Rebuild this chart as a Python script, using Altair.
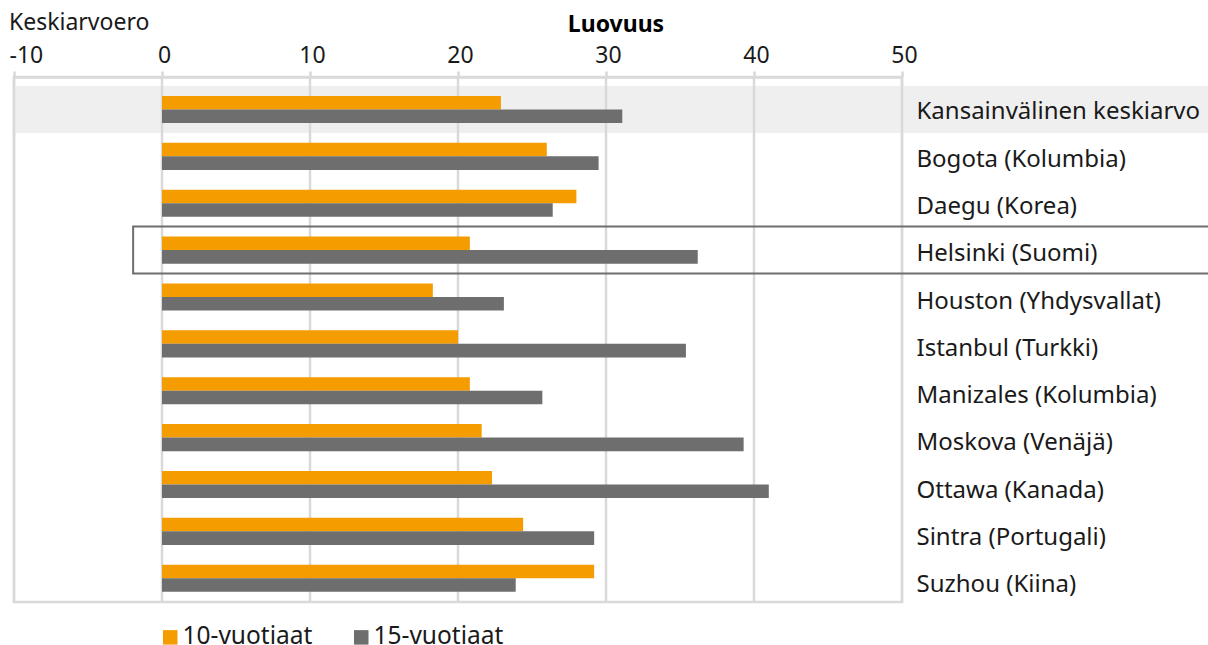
import altair as alt
import pandas as pd

cities = [
    "Kansainvälinen keskiarvo",
    "Bogota (Kolumbia)",
    "Daegu (Korea)",
    "Helsinki (Suomi)",
    "Houston (Yhdysvallat)",
    "Istanbul (Turkki)",
    "Manizales (Kolumbia)",
    "Moskova (Venäjä)",
    "Ottawa (Kanada)",
    "Sintra (Portugali)",
    "Suzhou (Kiina)",
]
age10 = [22.9, 26.0, 28.0, 20.8, 18.3, 20.0, 20.8, 21.6, 22.3, 24.4, 29.2]
age15 = [31.1, 29.5, 26.4, 36.2, 23.1, 35.4, 25.7, 39.3, 41.0, 29.2, 23.9]
groups = ["10-vuotiaat", "15-vuotiaat"]
colors = ["#F59C00", "#6E6E6E"]
ticks = [-10, 0, 10, 20, 30, 40, 50]
highlight_shade = ["Kansainvälinen keskiarvo"]
highlight_box = ["Helsinki (Suomi)"]

FONT = "Noto Sans"
FS = 23

rows = []
for c, a, b in zip(cities, age10, age15):
    rows.append({"city": c, "group": groups[0], "value": a})
    rows.append({"city": c, "group": groups[1], "value": b})
df = pd.DataFrame(rows)

yscale = alt.Scale(domain=cities, paddingInner=0.42, paddingOuter=0.31, align=0.65)
xscale = alt.Scale(domain=[-10, 50], nice=False)

yaxis = alt.Axis(
    orient="right",
    domain=False,
    ticks=False,
    grid=False,
    labelAlign="left",
    labelPadding=14,
    labelFont=FONT,
    labelFontSize=24,
    labelColor="#1A1A1A",
    labelLimit=400,
    labelOffset=alt.expr("3 + 4 * datum.index"),
    zindex=1,
)
xaxis = alt.Axis(
    orient="top",
    values=ticks,
    grid=False,
    domainColor="#D9D9D9",
    domainWidth=2.5,
    tickColor="#D9D9D9",
    tickWidth=2.5,
    tickSize=6,
    labelFont=FONT,
    labelFontSize=FS,
    labelColor="#1A1A1A",
    labelPadding=4,
    labelExpr="datum.value < 0 ? '-' + abs(datum.value) : datum.label",
    labelAlign=alt.expr("datum.value == -10 ? 'left' : 'center'"),
    labelOffset=alt.expr("datum.value == -10 ? -5 : 2"),
    zindex=1,
)


def ycity():
    return alt.Y("city:N", scale=yscale, sort=cities, title=None, axis=yaxis)


shade = alt.Chart(pd.DataFrame({"city": highlight_shade})).mark_bar(
    size=47, color="#EFEFEF"
).encode(
    y=ycity(),
    x=alt.value(0),
    x2=alt.value(1200),
)

grid = alt.Chart(pd.DataFrame({"t": ticks})).mark_rule(
    color="#D9D9D9", strokeWidth=2.5
).encode(
    x=alt.X("t:Q", scale=xscale, title=None, axis=xaxis),
)

bars = alt.Chart(df).mark_bar().encode(
    y=ycity(),
    yOffset=alt.YOffset(
        "group:N", sort=groups, scale=alt.Scale(domain=groups, paddingInner=0, paddingOuter=0)
    ),
    x=alt.X("value:Q", scale=xscale, title=None, axis=xaxis),
    x2=alt.datum(0),
    color=alt.Color(
        "group:N",
        sort=groups,
        scale=alt.Scale(domain=groups, range=colors),
        legend=alt.Legend(
            title=None,
            orient="none",
            direction="horizontal",
            legendX=144,
            legendY=548,
            symbolType="square",
            symbolSize=210,
            symbolStrokeWidth=0,
            symbolOpacity=1,
            labelFont=FONT,
            labelFontSize=24.5,
            labelColor="#1A1A1A",
            labelOffset=0,
            columnPadding=36,
        ),
    ),
)

box = alt.Chart(pd.DataFrame({"city": highlight_box})).mark_bar(
    size=47, fill="transparent", stroke="#6E6E6E", strokeWidth=2
).encode(
    y=ycity(),
    x=alt.datum(-1.95),
    x2=alt.value(1200),
)

t1 = alt.Chart(pd.DataFrame({"t": ["Keskiarvoero"]})).mark_text(
    align="left", baseline="alphabetic", font=FONT, fontSize=FS, color="#1A1A1A"
).encode(text="t:N", x=alt.value(-5), y=alt.value(-47))

t2 = alt.Chart(pd.DataFrame({"t": ["Luovuus"]})).mark_text(
    align="center", baseline="alphabetic", font=FONT, fontSize=FS, fontWeight="bold", color="#000000"
).encode(text="t:N", x=alt.value(602), y=alt.value(-45))

chart = alt.layer(shade, grid, bars, box, t1, t2).properties(
    width=888,
    height=525,
    autosize=alt.AutoSizeParams(type="none"),
    padding={"left": 14, "top": 77, "right": 306, "bottom": 43},
).configure_view(stroke="#D9D9D9", strokeWidth=2.5)

chart.save("out.html", embed_options={"renderer": "svg", "actions": False})
